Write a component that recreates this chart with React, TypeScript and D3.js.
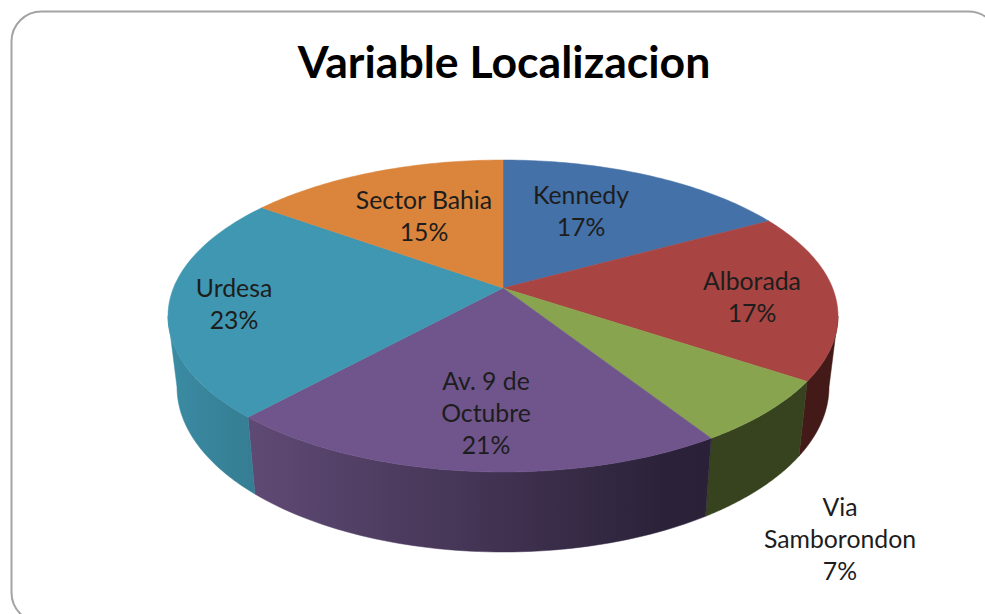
import React from "react";
import * as d3 from "d3";

const categories = ["Kennedy", "Alborada", "Via Samborondon", "Av. 9 de Octubre", "Urdesa", "Sector Bahia"];
const values = [17, 17.4, 6.6, 20.7, 23.3, 15];
const percentLabels = ["17%", "17%", "7%", "21%", "23%", "15%"];
const nameLines = [["Kennedy"], ["Alborada"], ["Via", "Samborondon"], ["Av. 9 de", "Octubre"], ["Urdesa"], ["Sector Bahia"]];
const topColors = ["#4471a8", "#a84442", "#88a44e", "#6f558c", "#4097b1", "#da843c"];
const sideColors = ["#2c4a70", "#431a18", "#37421e", "url(#purpleSide)", "url(#tealSide)", "#a05f28"];

// Layout only: first-line centre and baseline of each label
const labelAnchorX = [581, 752, 840, 486, 234, 424];
const labelAnchorY = [204, 290, 516, 390, 297, 209];

const W = 985, H = 614;
const apexX = 503, apexY = 288;
const top = { cx: 503, cy: 316, rx: 335, ry: 156 };
const bottom = { cx: 503, cy: 387, rx: 326, ry: 165 };
const shift = (top.cy - apexY) / top.ry; // perspective offset of the pie centre inside the rim
const FONT = "Lato,'Open Sans',sans-serif";

// pie angle -> angle on the perspective-drawn rim ellipse
const rimAngle = (a: number) => {
  const s = Math.sin(a), c = Math.cos(a);
  const u = (s * Math.sqrt(1 - shift * shift)) / (1 + shift * c);
  const v = (c + shift) / (1 + shift * c);
  const t = Math.atan2(u, v);
  return t < -1e-6 ? t + 2 * Math.PI : t;
};
const onEllipse = (e: typeof top, t: number): [number, number] => [
  e.cx + e.rx * Math.sin(t),
  e.cy - e.ry * Math.cos(t),
];

export default function App() {
  const arcs = d3.pie<number>().sort(null)(values);
  const line = d3.line();
  const samples = (t0: number, t1: number) => d3.range(0, 61).map((i) => t0 + ((t1 - t0) * i) / 60);

  const faces = arcs.map((d) => {
    const t0 = rimAngle(d.startAngle);
    const t1 = d.endAngle >= 2 * Math.PI - 1e-6 ? 2 * Math.PI : rimAngle(d.endAngle);
    return line([[apexX, apexY], ...samples(t0, t1).map((t) => onEllipse(top, t))]) + "Z";
  });
  const sides = arcs.map((d) => {
    const t0 = Math.max(rimAngle(d.startAngle), Math.PI / 2);
    const t1 = Math.min(d.endAngle >= 2 * Math.PI - 1e-6 ? 2 * Math.PI : rimAngle(d.endAngle), (3 * Math.PI) / 2);
    if (t1 <= t0) return null;
    const ts = samples(t0, t1);
    return line([...ts.map((t) => onEllipse(top, t)), ...ts.slice().reverse().map((t) => onEllipse(bottom, t))]) + "Z";
  });

  return (
    <svg width={W} height={H} viewBox={`0 0 ${W} ${H}`} style={{ position: "absolute", left: 0, top: 0, background: "#ffffff" }}>
      <defs>
        <linearGradient id="purpleSide" gradientUnits="userSpaceOnUse" x1={246} x2={713} y1={0} y2={0}>
          <stop offset="0" stopColor="#5f4a75" />
          <stop offset="0.45" stopColor="#463657" />
          <stop offset="0.9" stopColor="#2b2239" />
          <stop offset="1" stopColor="#2a2138" />
        </linearGradient>
        <linearGradient id="tealSide" gradientUnits="userSpaceOnUse" x1={170} x2={253} y1={0} y2={0}>
          <stop offset="0" stopColor="#3a8ba3" />
          <stop offset="1" stopColor="#357d92" />
        </linearGradient>
      </defs>
      <rect x={11.5} y={11.5} width={987} height={611} rx={30} fill="#ffffff" stroke="#a3a3a3" strokeWidth={2} />
      <text x={504} y={78} textAnchor="middle" fontFamily={FONT} fontWeight={700} fontSize={44.6} fill="#000">Variable Localizacion</text>
      {sides.map((p, i) => p && <path key={i} d={p} fill={sideColors[i]} stroke={sideColors[i]} strokeWidth={0.5} />)}
      {faces.map((p, i) => <path key={i} d={p} fill={topColors[i]} stroke={topColors[i]} strokeWidth={0.5} />)}
      {categories.map((c, i) => (
        <text key={c} textAnchor="middle" fontFamily={FONT} fontSize={24.8} fill="#1d1d1d">
          {[...nameLines[i], percentLabels[i]].map((l, j) => (
            <tspan key={j} x={labelAnchorX[i]} y={labelAnchorY[i] + j * 32}>{l}</tspan>
          ))}
        </text>
      ))}
    </svg>
  );
}
